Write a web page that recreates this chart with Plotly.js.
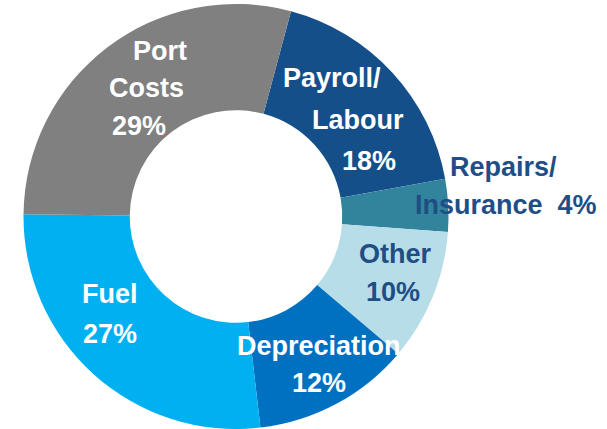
<!DOCTYPE html>
<html>
<head>
<meta charset="utf-8">
<script src="https://cdn.plot.ly/plotly-3.0.1.min.js"></script>
<style>html,body{margin:0;padding:0;background:#fff;}#chart{width:607px;height:429px;}</style>
</head>
<body>
<div id="chart"></div>
<script>
// Data
var categories = ["Payroll/ Labour", "Repairs/ Insurance", "Other", "Depreciation", "Fuel", "Port Costs"];
var shares = [18, 4, 10, 12, 27, 29];
var sliceColors = ["#154f8a", "#31849b", "#b7dde8", "#0070c0", "#00b0f0", "#808080"];
// Label lines (text) per category
var labelLines = [
  ["Payroll/", "Labour", "18%"],
  ["Repairs/", "Insurance  4%"],
  ["Other", "10%"],
  ["Depreciation", "12%"],
  ["Fuel", "27%"],
  ["Port", "Costs", "29%"]
];
var labelColors = ["#ffffff", "#1f4e87", "#1f4e87", "#ffffff", "#ffffff", "#ffffff"];
// Label line positions in pixels (layout only)
var labelPos = [
  [[332, 75], [358, 117], [369, 158]],
  [[503, 165], [506, 203]],
  [[396, 252], [393, 291]],
  [[319, 345], [319, 383]],
  [[110, 293], [110, 333]],
  [[160, 47], [146, 85], [139, 123]]
];

var W = 607, H = 429;
var annotations = [];
labelLines.forEach(function (lines, i) {
  lines.forEach(function (t, j) {
    annotations.push({
      text: t,
      xref: "paper", yref: "paper",
      x: labelPos[i][j][0] / W,
      y: 1 - labelPos[i][j][1] / H,
      xanchor: "center", yanchor: "middle",
      showarrow: false,
      font: {family: "Liberation Sans, Arial, sans-serif", size: 27, color: labelColors[i], weight: "bold"}
    });
  });
});

var trace = {
  type: "pie",
  labels: categories,
  values: shares,
  hole: 0.5,
  sort: false,
  direction: "clockwise",
  rotation: 15,
  marker: {colors: sliceColors, line: {width: 0}},
  textinfo: "none",
  hoverinfo: "none",
  domain: {x: [23.5 / W, 448.5 / W], y: [0, 1]},
  showlegend: false
};

var layout = {
  width: W, height: H,
  margin: {l: 0, r: 0, t: 4, b: 0},
  paper_bgcolor: "#ffffff",
  plot_bgcolor: "#ffffff",
  showlegend: false,
  annotations: annotations
};

Plotly.newPlot("chart", [trace], layout, {displayModeBar: false, staticPlot: true});
</script>
</body>
</html>
